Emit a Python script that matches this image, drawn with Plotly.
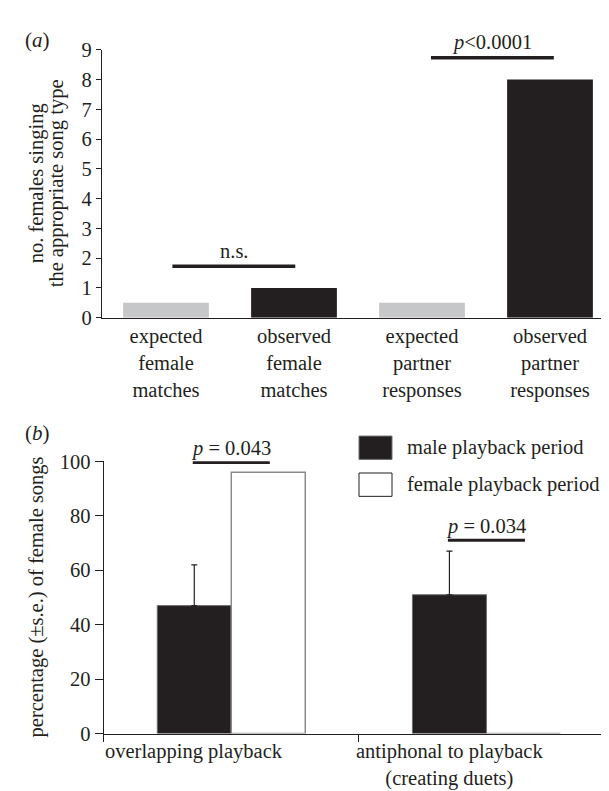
import plotly.graph_objects as go

# ---------------- data: panel (a) ----------------
a_categories = ["expected<br>female<br>matches", "observed<br>female<br>matches",
                "expected<br>partner<br>responses", "observed<br>partner<br>responses"]
a_values = [0.5, 1, 0.5, 8]
a_colors = ["#c6c7c8", "#231f20", "#c6c7c8", "#231f20"]
a_yticks = [0, 1, 2, 3, 4, 5, 6, 7, 8, 9]
a_sig_labels = ["n.s.", "<i>p</i><0.0001"]
a_sig_x0 = [0.05, 2.07]
a_sig_x1 = [1.01, 3.03]
a_sig_y = [1.73, 8.73]

# ---------------- data: panel (b) ----------------
b_categories = ["overlapping playback", "antiphonal to playback<br>(creating duets)"]
b_male = [47, 51]
b_male_se = [15, 16]
b_female = [96, 0]
b_yticks = [0, 20, 40, 60, 80, 100]
b_sig_labels = ["<i>p</i> = 0.043", "<i>p</i> = 0.034"]
b_sig_y = [99.6, 71]
b_series = ["male playback period", "female playback period"]

W, H = 609, 791
INK = "#231f20"
FONT = "Liberation Serif"
FS = 20.5

def px(x):
    return x / W

def py(y):
    return 1 - y / H

fig = go.Figure()

ax = list(range(len(a_categories)))
fig.add_trace(go.Bar(x=ax, y=a_values, marker=dict(color=a_colors, line=dict(width=0)),
                     width=0.67, xaxis="x", yaxis="y", showlegend=False))

bx = list(range(len(b_categories)))
fig.add_trace(go.Bar(x=bx, y=b_male, name=b_series[0], xaxis="x2", yaxis="y2",
                     marker=dict(color=INK, line=dict(color="#6e6e6e", width=1)),
                     error_y=dict(type="data", symmetric=False, array=b_male_se,
                                  arrayminus=[0] * len(b_male_se),
                                  color=INK, thickness=1.2, width=3),
                     offsetgroup="m", showlegend=False))
fig.add_trace(go.Bar(x=bx, y=b_female, name=b_series[1], xaxis="x2", yaxis="y2",
                     marker=dict(color="white", line=dict(color="#8a8a8a", width=1.5)),
                     offsetgroup="f", showlegend=False))

BARGAP_B = 0.42
fig.update_layout(
    width=W, height=H, margin=dict(l=0, r=0, t=0, b=0),
    paper_bgcolor="white", plot_bgcolor="white",
    font=dict(family=FONT, size=FS, color=INK),
    barmode="group", bargap=BARGAP_B, bargroupgap=0,
    xaxis=dict(domain=[px(94), px(606)], range=[-0.5, 3.5],
               tickvals=ax, ticktext=a_categories, ticks="",
               showline=True, linecolor=INK, linewidth=1.2, showgrid=False,
               zeroline=False, anchor="y", tickfont=dict(size=FS)),
    yaxis=dict(domain=[py(307.3), py(31.7)], range=[0, 9], tickvals=a_yticks,
               ticks="outside", ticklen=5, tickcolor=INK, tickwidth=1,
               showline=True, linecolor=INK, linewidth=1.2, showgrid=False,
               zeroline=False, anchor="x", tickfont=dict(size=FS)),
    xaxis2=dict(domain=[px(95.7), px(606)], range=[-0.5, 1.5],
                tickvals=[-0.5, 0.5, 1.5], ticktext=["", "", ""],
                ticks="outside", ticklen=7, tickcolor=INK, tickwidth=1,
                showline=True, linecolor=INK, linewidth=1.2, showgrid=False,
                zeroline=False, anchor="y2"),
    yaxis2=dict(domain=[py(735), py(455)], range=[0, 100], tickvals=b_yticks,
                ticks="outside", ticklen=8, tickcolor=INK, tickwidth=1,
                showline=True, linecolor=INK, linewidth=1.2, showgrid=False,
                zeroline=False, anchor="x2", tickfont=dict(size=FS)),
)

shapes = []
annotations = []

def note(**kw):
    base = dict(showarrow=False, xanchor="center", yanchor="middle", font=dict(size=FS))
    base.update(kw)
    annotations.append(base)

# significance bars, panel (a)
for lab, x0, x1, y in zip(a_sig_labels, a_sig_x0, a_sig_x1, a_sig_y):
    shapes.append(dict(type="line", xref="x", yref="y", x0=x0, x1=x1, y0=y, y1=y,
                       line=dict(color=INK, width=3.5)))
    note(xref="x", yref="y", x=(x0 + x1) / 2, y=y, text=lab, yanchor="bottom", yshift=2)

# significance bars, panel (b): centred on each category
half = 0.151
for i, (lab, y) in enumerate(zip(b_sig_labels, b_sig_y)):
    shapes.append(dict(type="line", xref="x2", yref="y2", x0=i - half, x1=i + half,
                       y0=y, y1=y, line=dict(color=INK, width=3)))
    note(xref="x2", yref="y2", x=i, y=y, text=lab, yanchor="bottom", yshift=0)

# category labels, panel (b): centred under the male bar
male_off = -(1 - BARGAP_B) / 4
for i, lab in enumerate(b_categories):
    note(xref="x2", yref="paper", x=i + male_off, y=py(741), text=lab,
         yanchor="top", borderpad=0)

# legend (panel b)
leg_rows = [(429, 453, INK, "#6e6e6e"), (467, 491, "white", INK)]
for (y0, y1, fill, edge), name in zip(leg_rows, b_series):
    shapes.append(dict(type="rect", xref="paper", yref="paper",
                       x0=px(351), x1=px(384), y0=py(y1), y1=py(y0),
                       fillcolor=fill, line=dict(color=edge, width=1)))
    note(xref="paper", yref="paper", x=px(397), y=py((y0 + y1) / 2), text=name,
         xanchor="left")

# axis titles
note(xref="paper", yref="paper", x=px(28), y=py(169), text="no. females singing",
     textangle=-90)
note(xref="paper", yref="paper", x=px(48), y=py(169), text="the appropriate song type",
     textangle=-90)
note(xref="paper", yref="paper", x=px(28), y=py(595),
     text="percentage (±s.e.) of female songs", textangle=-90)

# panel letters
note(xref="paper", yref="paper", x=px(29), y=py(22), text="(<i>a</i>)", font=dict(size=21))
note(xref="paper", yref="paper", x=px(29), y=py(426), text="(<i>b</i>)", font=dict(size=21))

fig.update_layout(shapes=shapes, annotations=annotations)
fig.write_html("out.html")
